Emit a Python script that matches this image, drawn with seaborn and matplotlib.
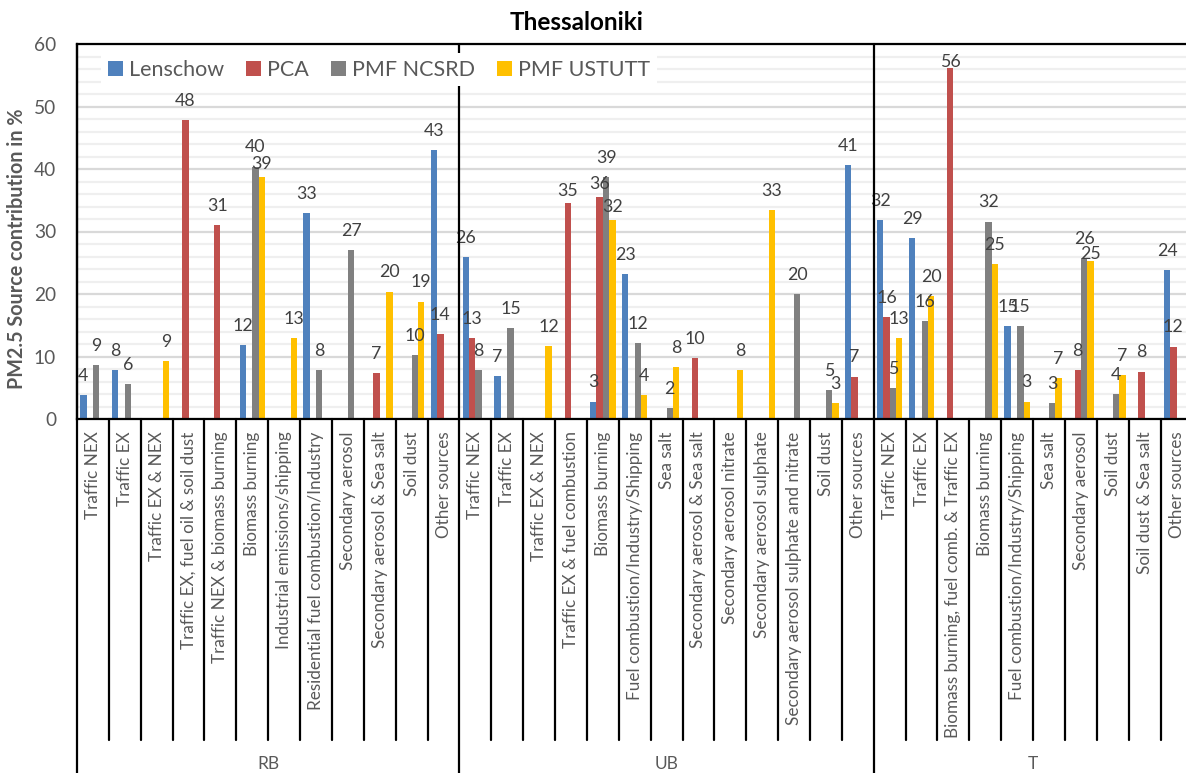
import numpy as np
import pandas as pd
import matplotlib
matplotlib.use("Agg")
import matplotlib.pyplot as plt
import matplotlib.transforms as mtransforms
from matplotlib.ticker import MultipleLocator
import seaborn as sns

# Source categories per site type
sites = ["RB", "UB", "T"]
rb_sources = [
    "Traffic NEX", "Traffic EX", "Traffic EX & NEX",
    "Traffic EX, fuel oil & soil dust", "Traffic NEX & biomass burning",
    "Biomass burning", "Industrial emissions/shipping",
    "Residential fuel combustion/Industry", "Secondary aerosol",
    "Secondary aerosol & Sea salt", "Soil dust", "Other sources",
]
ub_sources = [
    "Traffic NEX", "Traffic EX", "Traffic EX & NEX",
    "Traffic EX & fuel combustion", "Biomass burning",
    "Fuel combustion/Industry/Shipping", "Sea salt",
    "Secondary aerosol & Sea salt", "Secondary aerosol nitrate",
    "Secondary aerosol sulphate", "Secondary aerosol sulphate and nitrate",
    "Soil dust", "Other sources",
]
t_sources = [
    "Traffic NEX", "Traffic EX", "Biomass burning, fuel comb. & Traffic EX",
    "Biomass burning", "Fuel combustion/Industry/Shipping", "Sea salt",
    "Secondary aerosol", "Soil dust", "Soil dust & Sea salt", "Other sources",
]

methods = ["Lenschow", "PCA", "PMF NCSRD", "PMF USTUTT"]
colors = ["#4F81BD", "#C0504D", "#808080", "#FFC000"]

nan = np.nan
# Contributions (%) in the order RB sources, UB sources, T sources
lenschow = [
    3.9, 7.9, nan, nan, nan, 11.9, nan, 33.0, nan, nan, nan, 43.0,
    25.9, 6.9, nan, nan, 2.8, 23.2, nan, nan, nan, nan, nan, nan, 40.7,
    31.9, 28.9, nan, nan, 14.9, nan, nan, nan, nan, 23.8,
]
pca = [
    nan, nan, nan, 47.9, 31.0, nan, nan, nan, nan, 7.3, nan, 13.6,
    13.0, nan, nan, 34.6, 35.6, nan, nan, 9.8, nan, nan, nan, nan, 6.8,
    16.3, nan, 56.1, nan, nan, nan, 7.9, nan, 7.6, 11.6,
]
pmf_ncsrd = [
    8.6, 5.6, nan, nan, nan, 40.4, nan, 7.8, 27.1, nan, 10.3, nan,
    7.9, 14.6, nan, nan, 38.7, 12.1, 1.7, nan, nan, nan, 20.0, 4.6, nan,
    5.0, 15.7, nan, 31.6, 14.9, 2.6, 25.7, 4.0, nan, nan,
]
pmf_ustutt = [
    nan, nan, 9.3, nan, nan, 38.7, 12.9, nan, nan, 20.4, 18.8, nan,
    nan, nan, 11.7, nan, 31.9, 3.8, 8.3, nan, 7.8, 33.4, nan, 2.6, nan,
    13.0, 19.7, nan, 24.8, 2.8, 6.6, 25.3, 7.1, nan, nan,
]

# Long table for seaborn
site_lists = [rb_sources, ub_sources, t_sources]
site_col, source_col, key_col = [], [], []
for site, srcs in zip(sites, site_lists):
    for s in srcs:
        site_col.append(site)
        source_col.append(s)
        key_col.append(f"{site}: {s}")
series = [lenschow, pca, pmf_ncsrd, pmf_ustutt]
rows = []
for m, vals in zip(methods, series):
    for k, v in zip(key_col, vals):
        rows.append({"key": k, "method": m, "value": v})
df = pd.DataFrame(rows).dropna()

sns.set_theme(style="white")
plt.rcParams["font.family"] = ["Lato", "DejaVu Sans"]

W, H = 1186, 773
fig = plt.figure(figsize=(W / 100, H / 100), dpi=100)
n_cat = len(key_col)
cat_px = 31.87
ax_left, ax_top, ax_bottom = 77, 44, 419
ax_w = n_cat * cat_px
ax = fig.add_axes([ax_left / W, 1 - ax_bottom / H, ax_w / W, (ax_bottom - ax_top) / H])

sns.barplot(
    data=df, x="key", y="value", hue="method", order=key_col,
    hue_order=methods, palette=colors, saturation=1, width=0.8,
    errorbar=None, linewidth=0, ax=ax,
)

# Value labels; a few are lowered where neighbouring labels crowd each other
label_pad = 8
label_drop = {
    ("PCA", "T: Biomass burning, fuel comb. & Traffic EX"): 9,
    ("PMF USTUTT", "T: Secondary aerosol"): 9,
    ("PCA", "UB: Biomass burning"): 5,
    ("PMF USTUTT", "UB: Biomass burning"): 5,
    ("PCA", "UB: Traffic EX & fuel combustion"): 5,
    ("PMF USTUTT", "RB: Biomass burning"): 4,
}
for m, vals, cont in zip(methods, series, ax.containers):
    present = [k for k, v in zip(key_col, vals) if not np.isnan(v)]
    anns = ax.bar_label(cont, fmt="%.0f", padding=label_pad, fontsize=12.8,
                        color="#404040")
    for key, ann in zip(present, anns):
        drop = label_drop.get((m, key), 0)
        if drop:
            ann.xyann = (0, label_pad - drop)

ax.set_xlim(-0.5, n_cat - 0.5)
ax.set_ylim(0, 60)
ax.yaxis.set_major_locator(MultipleLocator(10))
ax.yaxis.set_minor_locator(MultipleLocator(2))
ax.set_axisbelow(True)
ax.grid(axis="y", which="major", color="#D9D9D9", lw=1.6)
ax.grid(axis="y", which="minor", color="#EFEFEF", lw=1.6)
ax.grid(axis="x", visible=False)

for sp in ax.spines.values():
    sp.set_color("black")
    sp.set_linewidth(1.6)

ax.tick_params(axis="y", which="major", direction="inout", length=12, width=1.6,
               color="black", labelsize=13.8, labelcolor="#595959", pad=9)
ax.tick_params(axis="y", which="minor", length=0)
ax.set_xticks(range(n_cat))
ax.set_xticklabels(source_col, rotation=90)
ax.tick_params(axis="x", length=0, pad=9, labelsize=12.3, labelcolor="#595959")
ax.set_xlabel("")
ax.set_ylabel("PM2.5 Source contribution in %", fontsize=14.2, fontweight="bold",
              color="#595959")
ax.yaxis.set_label_coords(-(ax_left - 27) / ax_w, 0.453)

# Category boundary lines and site separators below the axis
trans = mtransforms.blended_transform_factory(ax.transData, ax.transAxes)
span = ax_bottom - ax_top
tick_end = -(740 - ax_bottom) / span
fig_end = -(H - ax_bottom) / span
edges = np.cumsum([0] + [len(s) for s in site_lists])
for k in range(n_cat + 1):
    x = k - 0.5
    if k in edges:
        ax.plot([x, x], [1, fig_end], color="black", lw=1.6, clip_on=False,
                transform=trans, zorder=5)
    else:
        ax.plot([x, x], [0, tick_end], color="black", lw=1.6, clip_on=False,
                transform=trans, zorder=5)

for site, a, b in zip(sites, edges[:-1], edges[1:]):
    ax.text((a + b - 1) / 2, -(764 - ax_bottom) / span, site, transform=trans,
            ha="center", va="center", fontsize=12.5, color="#595959")

handles, labels = ax.get_legend_handles_labels()
leg = ax.legend(handles, labels, loc="center left", bbox_to_anchor=(0.012, 0.931),
                ncol=4, frameon=True, facecolor="white", edgecolor="none",
                framealpha=1, fancybox=False, fontsize=15.5, handlelength=0.7,
                handleheight=0.7, handletextpad=0.3, columnspacing=1.0,
                borderpad=0.3, labelcolor="#595959")

fig.text(577 / W, 1 - 22 / H, "Thessaloniki", ha="center", va="center",
         fontsize=17.5, fontweight="bold", color="black")

fig.savefig("out.png", dpi=100)
